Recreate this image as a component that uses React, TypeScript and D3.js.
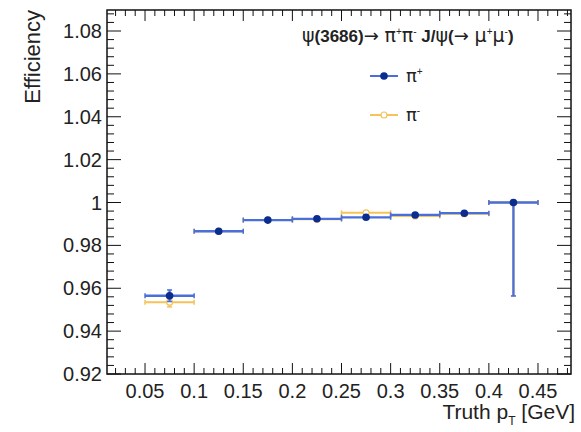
import React from "react";
import * as d3 from "d3";

const binLow = [0.05, 0.1, 0.15, 0.2, 0.25, 0.3, 0.35, 0.4];
const binHigh = [0.1, 0.15, 0.2, 0.25, 0.3, 0.35, 0.4, 0.45];
const piPlus = [0.9565, 0.9866, 0.9918, 0.9924, 0.9931, 0.9942, 0.995, 1.0];
const piPlusErrLo = [0.0027, 0.0005, 0.0004, 0.0004, 0.0004, 0.0004, 0.0005, 0.0436];
const piPlusErrHi = [0.0027, 0.0005, 0.0004, 0.0004, 0.0004, 0.0004, 0.0005, 0.0];
const piMinus = [0.9535, 0.9866, 0.9918, 0.9922, 0.9952, 0.9937, 0.9948, 1.0];
const piMinusErrLo = [0.0022, 0.0005, 0.0004, 0.0004, 0.0004, 0.0004, 0.0005, 0.0436];
const piMinusErrHi = [0.0008, 0.0005, 0.0004, 0.0004, 0.0004, 0.0004, 0.0005, 0.0];
const xTicks = [0.05, 0.1, 0.15, 0.2, 0.25, 0.3, 0.35, 0.4, 0.45];
const yTicks = [0.92, 0.94, 0.96, 0.98, 1.0, 1.02, 1.04, 1.06, 1.08];

const W = 581, H = 432;
const L = 107, R = 571, T = 10, B = 374;
const font = "'Liberation Sans', Arial, Helvetica, sans-serif";
const symFont = "'DejaVu Sans', sans-serif";

const blueLine = "#4a6fd8";
const blueMarker = "#0b2d8f";
const orange = "#f6c35a";

export default function App() {
  const x = d3.scaleLinear().domain([0.0113, 0.4836]).range([L, R]);
  const y = d3.scaleLinear().domain([0.92, 1.0898]).range([B, T]);
  const xMinor = d3.range(0.02, 0.484, 0.01).map((v) => Math.round(v * 1000) / 1000);
  const yMinor = d3.range(0.92, 1.0899, 0.004).map((v) => Math.round(v * 10000) / 10000);
  const fmt = (v: number) => (Math.abs(v - 1) < 1e-9 ? "1" : String(+v.toFixed(2)));

  const series = (
    vals: number[], lo: number[], hi: number[], col: string, mcol: string, open: boolean, key: string, sw: number
  ) => (
    <g key={key}>
      {vals.map((v, i) => {
        const cx = x((binLow[i] + binHigh[i]) / 2);
        const cy = y(v);
        const x0 = x(binLow[i]), x1 = x(binHigh[i]);
        const y0 = y(v - lo[i]), y1 = y(v + hi[i]);
        return (
          <g key={i}>
            <line x1={x0} x2={x1} y1={cy} y2={cy} stroke={col} strokeWidth={sw} />
            <line x1={x0} x2={x0} y1={cy - 2.5} y2={cy + 2.5} stroke={col} strokeWidth={1.5} />
            <line x1={x1} x2={x1} y1={cy - 2.5} y2={cy + 2.5} stroke={col} strokeWidth={1.5} />
            <line x1={cx} x2={cx} y1={y0} y2={y1} stroke={col} strokeWidth={sw} />
            {lo[i] > 0.002 && (
              <line x1={cx - 2.5} x2={cx + 2.5} y1={y0} y2={y0} stroke={col} strokeWidth={1.5} />
            )}
            {hi[i] > 0.002 && (
              <line x1={cx - 2.5} x2={cx + 2.5} y1={y1} y2={y1} stroke={col} strokeWidth={1.5} />
            )}
            {open ? (
              <circle cx={cx} cy={cy} r={3} fill="white" stroke={mcol} strokeWidth={1.2} />
            ) : (
              <circle cx={cx} cy={cy} r={3.8} fill={mcol} />
            )}
          </g>
        );
      })}
    </g>
  );

  const sup = (s: string) => (
    <tspan dy={-7} fontSize={10} fontWeight="normal">{s}</tspan>
  );
  const greek = (s: string, dy = 0) => (
    <tspan dy={dy} fontWeight="normal" fontSize={19} fontFamily={symFont}>{s}</tspan>
  );
  const arrow = () => (
    <tspan fontWeight="normal" fontSize={18} fontFamily="'DejaVu Sans', sans-serif">{"→ "}</tspan>
  );

  return (
    <svg width={W} height={H} style={{ position: "absolute", left: 0, top: 0, background: "white" }} fontFamily={font}>
      <rect x={0} y={0} width={W} height={H} fill="white" />
      {/* frame */}
      <rect x={L} y={T} width={R - L} height={B - T} fill="none" stroke="#111" strokeWidth={1.5} />
      {/* x ticks */}
      {xMinor.map((v, i) => {
        const major = xTicks.some((t) => Math.abs(t - v) < 1e-6);
        const len = major ? 11 : 6;
        return (
          <g key={"xm" + i}>
            <line x1={x(v)} x2={x(v)} y1={B} y2={B - len} stroke="#111" strokeWidth={1} />
            <line x1={x(v)} x2={x(v)} y1={T} y2={T + len} stroke="#111" strokeWidth={1} />
          </g>
        );
      })}
      {xTicks.map((v) => (
        <text key={"xt" + v} x={x(v)} y={398} textAnchor="middle" fontSize={20} fill="#222">
          {fmt(v)}
        </text>
      ))}
      {/* y ticks */}
      {yMinor.map((v, i) => {
        const major = yTicks.some((t) => Math.abs(t - v) < 1e-6);
        const len = major ? 14 : 7;
        return (
          <g key={"ym" + i}>
            <line x1={L} x2={L + len} y1={y(v)} y2={y(v)} stroke="#111" strokeWidth={1} />
            <line x1={R} x2={R - len} y1={y(v)} y2={y(v)} stroke="#111" strokeWidth={1} />
          </g>
        );
      })}
      {yTicks.map((v) => (
        <text key={"yt" + v} x={102} y={y(v) + 7} textAnchor="end" fontSize={20} fill="#222">
          {fmt(v)}
        </text>
      ))}
      {/* axis titles */}
      <text transform={`translate(40,10) rotate(-90)`} textAnchor="end" fontSize={22} fill="#222">
        Efficiency
      </text>
      <text x={575} y={419} textAnchor="end" fontSize={21} fill="#222">
        Truth p<tspan dy={6} fontSize={12}>T</tspan><tspan dy={-6}> [GeV]</tspan>
      </text>
      {/* data */}
      {series(piMinus, piMinusErrLo, piMinusErrHi, orange, orange, true, "m", 2)}
      {series(piPlus, piPlusErrLo, piPlusErrHi, blueLine, blueMarker, false, "p", 2.3)}
      {/* title */}
      <text x={302} y={42} fontSize={17} fill="#222" fontWeight="bold">
        <tspan fontWeight="normal" fontSize={19} fontFamily={symFont}>ψ</tspan>
        <tspan>(3686)</tspan>{arrow()}
        {greek("π")}{sup("+")}
        {greek("π", 7)}{sup("-")}
        <tspan dy={7}> J/</tspan>{greek("ψ")}<tspan>(</tspan>{arrow()}
        {greek("μ")}{sup("+")}
        {greek("μ", 7)}{sup("-")}
        <tspan dy={7}>)</tspan>
      </text>
      {/* legend */}
      <line x1={370} x2={398} y1={76} y2={76} stroke={blueLine} strokeWidth={2} />
      <circle cx={384} cy={76} r={3.8} fill={blueMarker} />
      <text x={406} y={82} fontSize={18} fill="#222" fontFamily={symFont}>
        π<tspan dy={-7} fontSize={10} fontFamily={font}>+</tspan>
      </text>
      <line x1={370} x2={398} y1={115} y2={115} stroke={orange} strokeWidth={2} />
      <circle cx={384} cy={115} r={3} fill="white" stroke={orange} strokeWidth={1.2} />
      <text x={406} y={121} fontSize={18} fill="#222" fontFamily={symFont}>
        π<tspan dy={-7} fontSize={10} fontFamily={font}>-</tspan>
      </text>
    </svg>
  );
}
